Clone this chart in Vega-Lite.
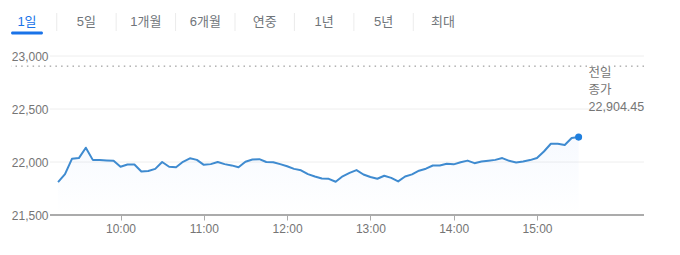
{
  "$schema": "https://vega.github.io/schema/vega-lite/v6.json",
  "background": "white",
  "padding": {"left": 10, "top": 13, "right": 0, "bottom": 0},
  "spacing": 15,
  "config": {
    "view": {"stroke": null},
    "font": "Liberation Sans, Arial, Noto Sans CJK KR, sans-serif"
  },
  "datasets": {
    "tabs": [
      {"tab": "1일", "selected": true},
      {"tab": "5일", "selected": false},
      {"tab": "1개월", "selected": false},
      {"tab": "6개월", "selected": false},
      {"tab": "연중", "selected": false},
      {"tab": "1년", "selected": false},
      {"tab": "5년", "selected": false},
      {"tab": "최대", "selected": false}
    ],
    "grid": [{"g": 22000}, {"g": 22500}, {"g": 23000}],
    "close": [{"time": "2020-01-01T15:30:00Z", "prevClose": 22904.45, "label": "전일\n종가\n22,904.45"}],
    "prices": [
      {"time": "2020-01-01T09:15:00Z", "v": 21810}, {"time": "2020-01-01T09:20:00Z", "v": 21885}, {"time": "2020-01-01T09:25:00Z", "v": 22030},
      {"time": "2020-01-01T09:30:00Z", "v": 22037}, {"time": "2020-01-01T09:35:00Z", "v": 22135}, {"time": "2020-01-01T09:40:00Z", "v": 22020},
      {"time": "2020-01-01T09:45:00Z", "v": 22018}, {"time": "2020-01-01T09:50:00Z", "v": 22015}, {"time": "2020-01-01T09:55:00Z", "v": 22012},
      {"time": "2020-01-01T10:00:00Z", "v": 21955}, {"time": "2020-01-01T10:05:00Z", "v": 21976}, {"time": "2020-01-01T10:10:00Z", "v": 21976},
      {"time": "2020-01-01T10:15:00Z", "v": 21910}, {"time": "2020-01-01T10:20:00Z", "v": 21915}, {"time": "2020-01-01T10:25:00Z", "v": 21935},
      {"time": "2020-01-01T10:30:00Z", "v": 22000}, {"time": "2020-01-01T10:35:00Z", "v": 21955}, {"time": "2020-01-01T10:40:00Z", "v": 21951},
      {"time": "2020-01-01T10:45:00Z", "v": 22002}, {"time": "2020-01-01T10:50:00Z", "v": 22035}, {"time": "2020-01-01T10:55:00Z", "v": 22020},
      {"time": "2020-01-01T11:00:00Z", "v": 21973}, {"time": "2020-01-01T11:05:00Z", "v": 21980}, {"time": "2020-01-01T11:10:00Z", "v": 22000},
      {"time": "2020-01-01T11:15:00Z", "v": 21980}, {"time": "2020-01-01T11:20:00Z", "v": 21968}, {"time": "2020-01-01T11:25:00Z", "v": 21950},
      {"time": "2020-01-01T11:30:00Z", "v": 22003}, {"time": "2020-01-01T11:35:00Z", "v": 22023}, {"time": "2020-01-01T11:40:00Z", "v": 22027},
      {"time": "2020-01-01T11:45:00Z", "v": 22000}, {"time": "2020-01-01T11:50:00Z", "v": 21998}, {"time": "2020-01-01T11:55:00Z", "v": 21980},
      {"time": "2020-01-01T12:00:00Z", "v": 21960}, {"time": "2020-01-01T12:05:00Z", "v": 21935}, {"time": "2020-01-01T12:10:00Z", "v": 21922},
      {"time": "2020-01-01T12:15:00Z", "v": 21886}, {"time": "2020-01-01T12:20:00Z", "v": 21863}, {"time": "2020-01-01T12:25:00Z", "v": 21845},
      {"time": "2020-01-01T12:30:00Z", "v": 21841}, {"time": "2020-01-01T12:35:00Z", "v": 21814}, {"time": "2020-01-01T12:40:00Z", "v": 21865},
      {"time": "2020-01-01T12:45:00Z", "v": 21897}, {"time": "2020-01-01T12:50:00Z", "v": 21924}, {"time": "2020-01-01T12:55:00Z", "v": 21882},
      {"time": "2020-01-01T13:00:00Z", "v": 21858}, {"time": "2020-01-01T13:05:00Z", "v": 21842}, {"time": "2020-01-01T13:10:00Z", "v": 21870},
      {"time": "2020-01-01T13:15:00Z", "v": 21850}, {"time": "2020-01-01T13:20:00Z", "v": 21817}, {"time": "2020-01-01T13:25:00Z", "v": 21863},
      {"time": "2020-01-01T13:30:00Z", "v": 21883}, {"time": "2020-01-01T13:35:00Z", "v": 21918}, {"time": "2020-01-01T13:40:00Z", "v": 21937},
      {"time": "2020-01-01T13:45:00Z", "v": 21967}, {"time": "2020-01-01T13:50:00Z", "v": 21967}, {"time": "2020-01-01T13:55:00Z", "v": 21983},
      {"time": "2020-01-01T14:00:00Z", "v": 21978}, {"time": "2020-01-01T14:05:00Z", "v": 21998}, {"time": "2020-01-01T14:10:00Z", "v": 22013},
      {"time": "2020-01-01T14:15:00Z", "v": 21989}, {"time": "2020-01-01T14:20:00Z", "v": 22005}, {"time": "2020-01-01T14:25:00Z", "v": 22012},
      {"time": "2020-01-01T14:30:00Z", "v": 22020}, {"time": "2020-01-01T14:35:00Z", "v": 22037}, {"time": "2020-01-01T14:40:00Z", "v": 22011},
      {"time": "2020-01-01T14:45:00Z", "v": 21995}, {"time": "2020-01-01T14:50:00Z", "v": 22005}, {"time": "2020-01-01T14:55:00Z", "v": 22018},
      {"time": "2020-01-01T15:00:00Z", "v": 22037}, {"time": "2020-01-01T15:05:00Z", "v": 22099}, {"time": "2020-01-01T15:10:00Z", "v": 22172},
      {"time": "2020-01-01T15:15:00Z", "v": 22172}, {"time": "2020-01-01T15:20:00Z", "v": 22160}, {"time": "2020-01-01T15:25:00Z", "v": 22226},
      {"time": "2020-01-01T15:30:00Z", "v": 22235}
    ]
  },
  "vconcat": [
    {
      "width": 448,
      "height": 18,
      "data": {"name": "tabs"},
      "layer": [
        {
          "mark": {"type": "text", "fontSize": 13, "baseline": "middle", "align": "center"},
          "encoding": {
            "x": {"field": "tab", "type": "nominal", "sort": null, "scale": {"type": "point", "padding": 0.269}, "axis": null},
            "text": {"field": "tab"},
            "color": {"condition": {"test": "datum.selected", "value": "#1a73e8"}, "value": "#70757a"}
          }
        },
        {
          "mark": {"type": "tick", "orient": "horizontal", "thickness": 3, "size": 32, "color": "#1a73e8", "yOffset": 11, "cornerRadius": 1.5},
          "encoding": {
            "x": {"field": "tab", "type": "nominal", "sort": null, "scale": {"type": "point", "padding": 0.269}, "axis": null},
            "opacity": {"condition": {"test": "datum.selected", "value": 1}, "value": 0}
          }
        },
        {
          "transform": [{"filter": "!datum.selected"}],
          "mark": {"type": "tick", "orient": "vertical", "thickness": 1, "size": 18, "color": "#e3e3e3"},
          "encoding": {
            "x": {"field": "tab", "type": "nominal", "sort": null, "scale": {"type": "point", "padding": 0.769}, "axis": null}
          }
        }
      ],
      "resolve": {"scale": {"x": "independent"}}
    },
    {
      "width": 633,
      "height": 159,
      "layer": [
        {
          "data": {"name": "grid"},
          "mark": {"type": "rule", "color": "#eeeeee", "strokeWidth": 1},
          "encoding": {
            "y": {"field": "g", "type": "quantitative"},
            "x": {"datum": {"year": 2020, "month": 1, "date": 1, "hours": 9, "minutes": 9, "seconds": 12, "utc": true}, "type": "temporal"},
            "x2": {"datum": {"year": 2020, "month": 1, "date": 1, "hours": 16, "minutes": 17, "seconds": 6, "utc": true}}
          }
        },
        {
          "data": {"name": "prices"},
          "mark": {
            "type": "area",
            "fill": {"gradient": "linear", "x1": 0, "y1": 0, "x2": 0, "y2": 1,
              "stops": [{"offset": 0, "color": "rgba(66,133,244,0.045)"}, {"offset": 1, "color": "rgba(66,133,244,0)"}]}
          },
          "encoding": {
            "x": {"field": "time", "type": "temporal"},
            "y": {"field": "v", "type": "quantitative"},
            "y2": {"datum": 21500}
          }
        },
        {
          "data": {"name": "grid"},
          "mark": {"type": "rule", "color": "#aaaaaa", "strokeWidth": 1.5},
          "encoding": {
            "y": {"datum": 21500, "type": "quantitative"},
            "x": {"datum": {"year": 2020, "month": 1, "date": 1, "hours": 9, "minutes": 9, "seconds": 12, "utc": true}, "type": "temporal"},
            "x2": {"datum": {"year": 2020, "month": 1, "date": 1, "hours": 16, "minutes": 17, "seconds": 6, "utc": true}}
          }
        },
        {
          "data": {"name": "close"},
          "mark": {"type": "rule", "color": "#888888", "strokeWidth": 1, "strokeDash": [1.5, 4.2]},
          "encoding": {
            "y": {"field": "prevClose", "type": "quantitative"}
          }
        },
        {
          "data": {"name": "prices"},
          "mark": {"type": "line", "color": "#3f8bd0", "strokeWidth": 2, "strokeJoin": "round"},
          "encoding": {
            "x": {
              "field": "time", "type": "temporal",
              "scale": {"type": "utc", "nice": false, "domain": [
                {"year": 2020, "month": 1, "date": 1, "hours": 8, "minutes": 41, "seconds": 6, "utc": true},
                {"year": 2020, "month": 1, "date": 1, "hours": 16, "minutes": 17, "seconds": 6, "utc": true}
              ]},
              "axis": {
                "values": [
                  {"year": 2020, "month": 1, "date": 1, "hours": 10, "utc": true},
                  {"year": 2020, "month": 1, "date": 1, "hours": 11, "utc": true},
                  {"year": 2020, "month": 1, "date": 1, "hours": 12, "utc": true},
                  {"year": 2020, "month": 1, "date": 1, "hours": 13, "utc": true},
                  {"year": 2020, "month": 1, "date": 1, "hours": 14, "utc": true},
                  {"year": 2020, "month": 1, "date": 1, "hours": 15, "utc": true}
                ],
                "format": "%H:%M", "title": null, "domain": false, "grid": false,
                "ticks": true, "tickColor": "#aaaaaa", "tickSize": 5, "labelPadding": 3,
                "labelColor": "#757575", "labelFontSize": 12, "labelFont": "Liberation Sans, Arial, sans-serif"
              }
            },
            "y": {
              "field": "v", "type": "quantitative",
              "scale": {"domain": [21500, 23000], "nice": false, "zero": false},
              "axis": {
                "values": [21500, 22000, 22500, 23000], "format": ",d", "title": null,
                "grid": false, "domain": false, "ticks": false, "tickSize": 0,
                "labelPadding": 2, "offset": -39,
                "labelColor": "#757575", "labelFontSize": 12, "labelFont": "Liberation Sans, Arial, sans-serif"
              }
            }
          }
        },
        {
          "data": {"name": "prices"},
          "transform": [
            {"joinaggregate": [{"op": "max", "field": "time", "as": "last"}]},
            {"filter": "datum.time === datum.last"}
          ],
          "mark": {"type": "point", "filled": true, "opacity": 1, "size": 50, "color": "#1f7fde"},
          "encoding": {
            "x": {"field": "time", "type": "temporal"},
            "y": {"field": "v", "type": "quantitative"}
          }
        },
        {
          "data": {"name": "close"},
          "mark": {"type": "text", "align": "left", "baseline": "top", "dx": 10, "dy": 1, "fontSize": 12.5, "lineHeight": 17, "lineBreak": "\n", "color": "#757575"},
          "encoding": {
            "x": {"field": "time", "type": "temporal"},
            "y": {"field": "prevClose", "type": "quantitative"},
            "text": {"field": "label"}
          }
        }
      ]
    }
  ]
}
